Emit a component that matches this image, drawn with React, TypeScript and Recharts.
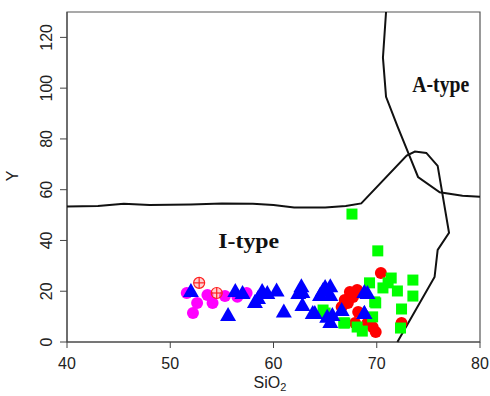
import React from "react";
import {
  ScatterChart,
  Scatter,
  XAxis,
  YAxis,
  ReferenceArea,
  ReferenceDot,
} from "recharts";

// boundary curves (SiO2, Y)
const iBoundaryX = [40, 43, 45.5, 48, 52, 55, 58, 60, 62, 65, 67, 68.5, 72.9, 73.7, 74.8, 75.9, 77, 75.9, 75.6, 72];
const iBoundaryY = [53.4, 53.6, 54.5, 54, 54.2, 54.6, 54.5, 54, 53, 53, 53.6, 54.6, 73.4, 75, 74.5, 69.4, 43, 36.3, 25.6, 0];
const aBoundaryX = [70.9, 70.6, 70.9, 72, 73.2, 74, 76.1, 78.3, 80];
const aBoundaryY = [130, 112, 96.6, 85, 73, 65, 59, 57.6, 57.2];

// samples
const magentaX = [51.6, 52.6, 52.2, 53.6, 54.1, 55.3, 56.5, 57.4];
const magentaY = [19.3, 15.4, 11.4, 18.5, 15.4, 18.1, 17.8, 19.3];

const crossX = [52.8, 54.5];
const crossY = [23.3, 19.3];

const blueX = [52.0, 56.3, 57.0, 55.6, 58.2, 58.5, 58.9, 59.4, 60.3, 61.0, 62.4, 62.7, 62.8, 62.8, 63.8, 64.0, 64.5, 64.8, 65.0, 65.5, 65.5, 65.7, 65.2, 66.6, 65.5, 68.8, 69.1, 68.8, 68.8];
const blueY = [20.1, 20.1, 19.3, 10.6, 15.8, 17.3, 20.1, 19.3, 20.3, 12.0, 19.3, 22.0, 19.7, 14.6, 11.4, 11.4, 18.5, 20.5, 21.7, 22.0, 18.5, 10.6, 9.9, 12.6, 7.9, 11.4, 19.3, 19.7, 11.4];

const redX = [70.4, 68.1, 67.4, 67.7, 66.9, 67.2, 66.6, 68.2, 67.9, 69.1, 69.6, 69.9, 72.4];
const redY = [27.2, 20.5, 19.7, 17.7, 16.5, 15.4, 13.8, 11.8, 7.5, 7.5, 5.9, 3.9, 7.5];

const greenX = [67.6, 70.1, 69.3, 71.4, 71.1, 70.6, 72.0, 73.5, 73.5, 69.8, 69.9, 72.4, 69.6, 66.8, 66.9, 68.1, 68.6, 72.3, 65.0, 64.8];
const greenY = [50.4, 35.9, 23.3, 25.2, 23.3, 21.3, 20.1, 24.4, 18.1, 15.8, 15.4, 13.0, 9.9, 7.5, 7.5, 5.9, 4.3, 5.5, 11.4, 12.6];

const xTicks = [40, 50, 60, 70, 80];
const yTicks = [0, 20, 40, 60, 80, 100, 120];

const pts = (xs: number[], ys: number[]) => xs.map((x, i) => ({ x, y: ys[i] }));

const font = "'Liberation Sans', Arial, sans-serif";
const serif = "'Liberation Serif', 'Times New Roman', serif";

const Circle = (color: string) => (p: any) => (
  <circle cx={p.cx} cy={p.cy} r={6} fill={color} />
);
const Square = (p: any) => (
  <rect x={p.cx - 5.5} y={p.cy - 5.5} width={11} height={11} fill="#00ff00" />
);
const Triangle = (p: any) => (
  <polygon
    points={`${p.cx},${p.cy - 8} ${p.cx - 8},${p.cy + 6} ${p.cx + 8},${p.cy + 6}`}
    fill="#0000ff"
  />
);
const Crossed = (p: any) => (
  <g stroke="#ff2020" strokeWidth={1.2} fill="rgba(255,120,120,0.35)">
    <circle cx={p.cx} cy={p.cy} r={5.5} />
    <line x1={p.cx - 5.5} y1={p.cy} x2={p.cx + 5.5} y2={p.cy} />
    <line x1={p.cx} y1={p.cy - 5.5} x2={p.cx} y2={p.cy + 5.5} />
  </g>
);
const NoDot = () => <g />;

const YTick = ({ x, y, payload }: any) => (
  <text
    x={x - 6}
    y={y}
    transform={`rotate(-90, ${x - 6}, ${y})`}
    textAnchor="middle"
    fontSize={16}
    fontFamily={font}
    fill="#222"
  >
    {payload.value}
  </text>
);

const XTick = ({ x, y, payload }: any) => (
  <text x={x} y={y + 19} textAnchor="middle" fontSize={16} fontFamily={font} fill="#222">
    {payload.value}
  </text>
);

// region name, stretched to the width seen in the reference
const regionLabel = (text: string, size: number, width: number) => (props: any) => {
  const vb = props.viewBox || {};
  const cx = vb.x + (vb.width || 0) / 2;
  const cy = vb.y + (vb.height || 0) / 2;
  return (
    <text
      x={cx - width / 2}
      y={cy + size * 0.33}
      fontSize={size}
      fontWeight="bold"
      fontFamily={serif}
      fill="#111"
      textLength={width}
      lengthAdjust="spacingAndGlyphs"
    >
      {text}
    </text>
  );
};

const boundary = { stroke: "#111", strokeWidth: 2 };

export default function App() {
  return (
    <div style={{ position: "absolute", left: 0, top: 0, background: "#fff" }}>
      <ScatterChart width={490} height={396} margin={{ top: 12, right: 10, bottom: 0, left: 0 }}>
        <XAxis
          type="number"
          dataKey="x"
          domain={[40, 80]}
          ticks={xTicks}
          height={54}
          tick={<XTick />}
          tickSize={6}
          stroke="#444"
        />
        <YAxis
          type="number"
          dataKey="y"
          domain={[0, 130]}
          ticks={yTicks}
          width={67}
          tick={<YTick />}
          tickSize={7}
          stroke="#444"
        />
        <ReferenceArea x1={40} x2={80} y1={0} y2={130} fill="none" stroke="#555" strokeWidth={1.2} />
        <Scatter data={pts(iBoundaryX, iBoundaryY)} line={boundary} shape={NoDot} isAnimationActive={false} />
        <Scatter data={pts(aBoundaryX, aBoundaryY)} line={boundary} shape={NoDot} isAnimationActive={false} />
        <Scatter data={pts(magentaX, magentaY)} shape={Circle("#ff00ff")} isAnimationActive={false} />
        <Scatter data={pts(crossX, crossY)} shape={Crossed} isAnimationActive={false} />
        <Scatter data={pts(redX, redY)} shape={Circle("#ff0000")} isAnimationActive={false} />
        <Scatter data={pts(greenX, greenY)} shape={Square} isAnimationActive={false} />
        <Scatter data={pts(blueX, blueY)} shape={Triangle} isAnimationActive={false} />
        <ReferenceDot x={76.2} y={101.3} r={0} label={regionLabel("A-type", 23, 57)} />
        <ReferenceDot x={57.6} y={39.5} r={0} label={regionLabel("I-type", 20, 61)} />
        <text x={12} y={176} transform="rotate(-90, 12, 176)" textAnchor="middle" dominantBaseline="central" fontSize={16} fontFamily={font} fill="#222">
          Y
        </text>
        <text x={270} y={388} textAnchor="middle" fontSize={16} fontFamily={font} fill="#222">
          SiO<tspan fontSize={11} dy={3}>2</tspan>
        </text>
      </ScatterChart>
    </div>
  );
}
